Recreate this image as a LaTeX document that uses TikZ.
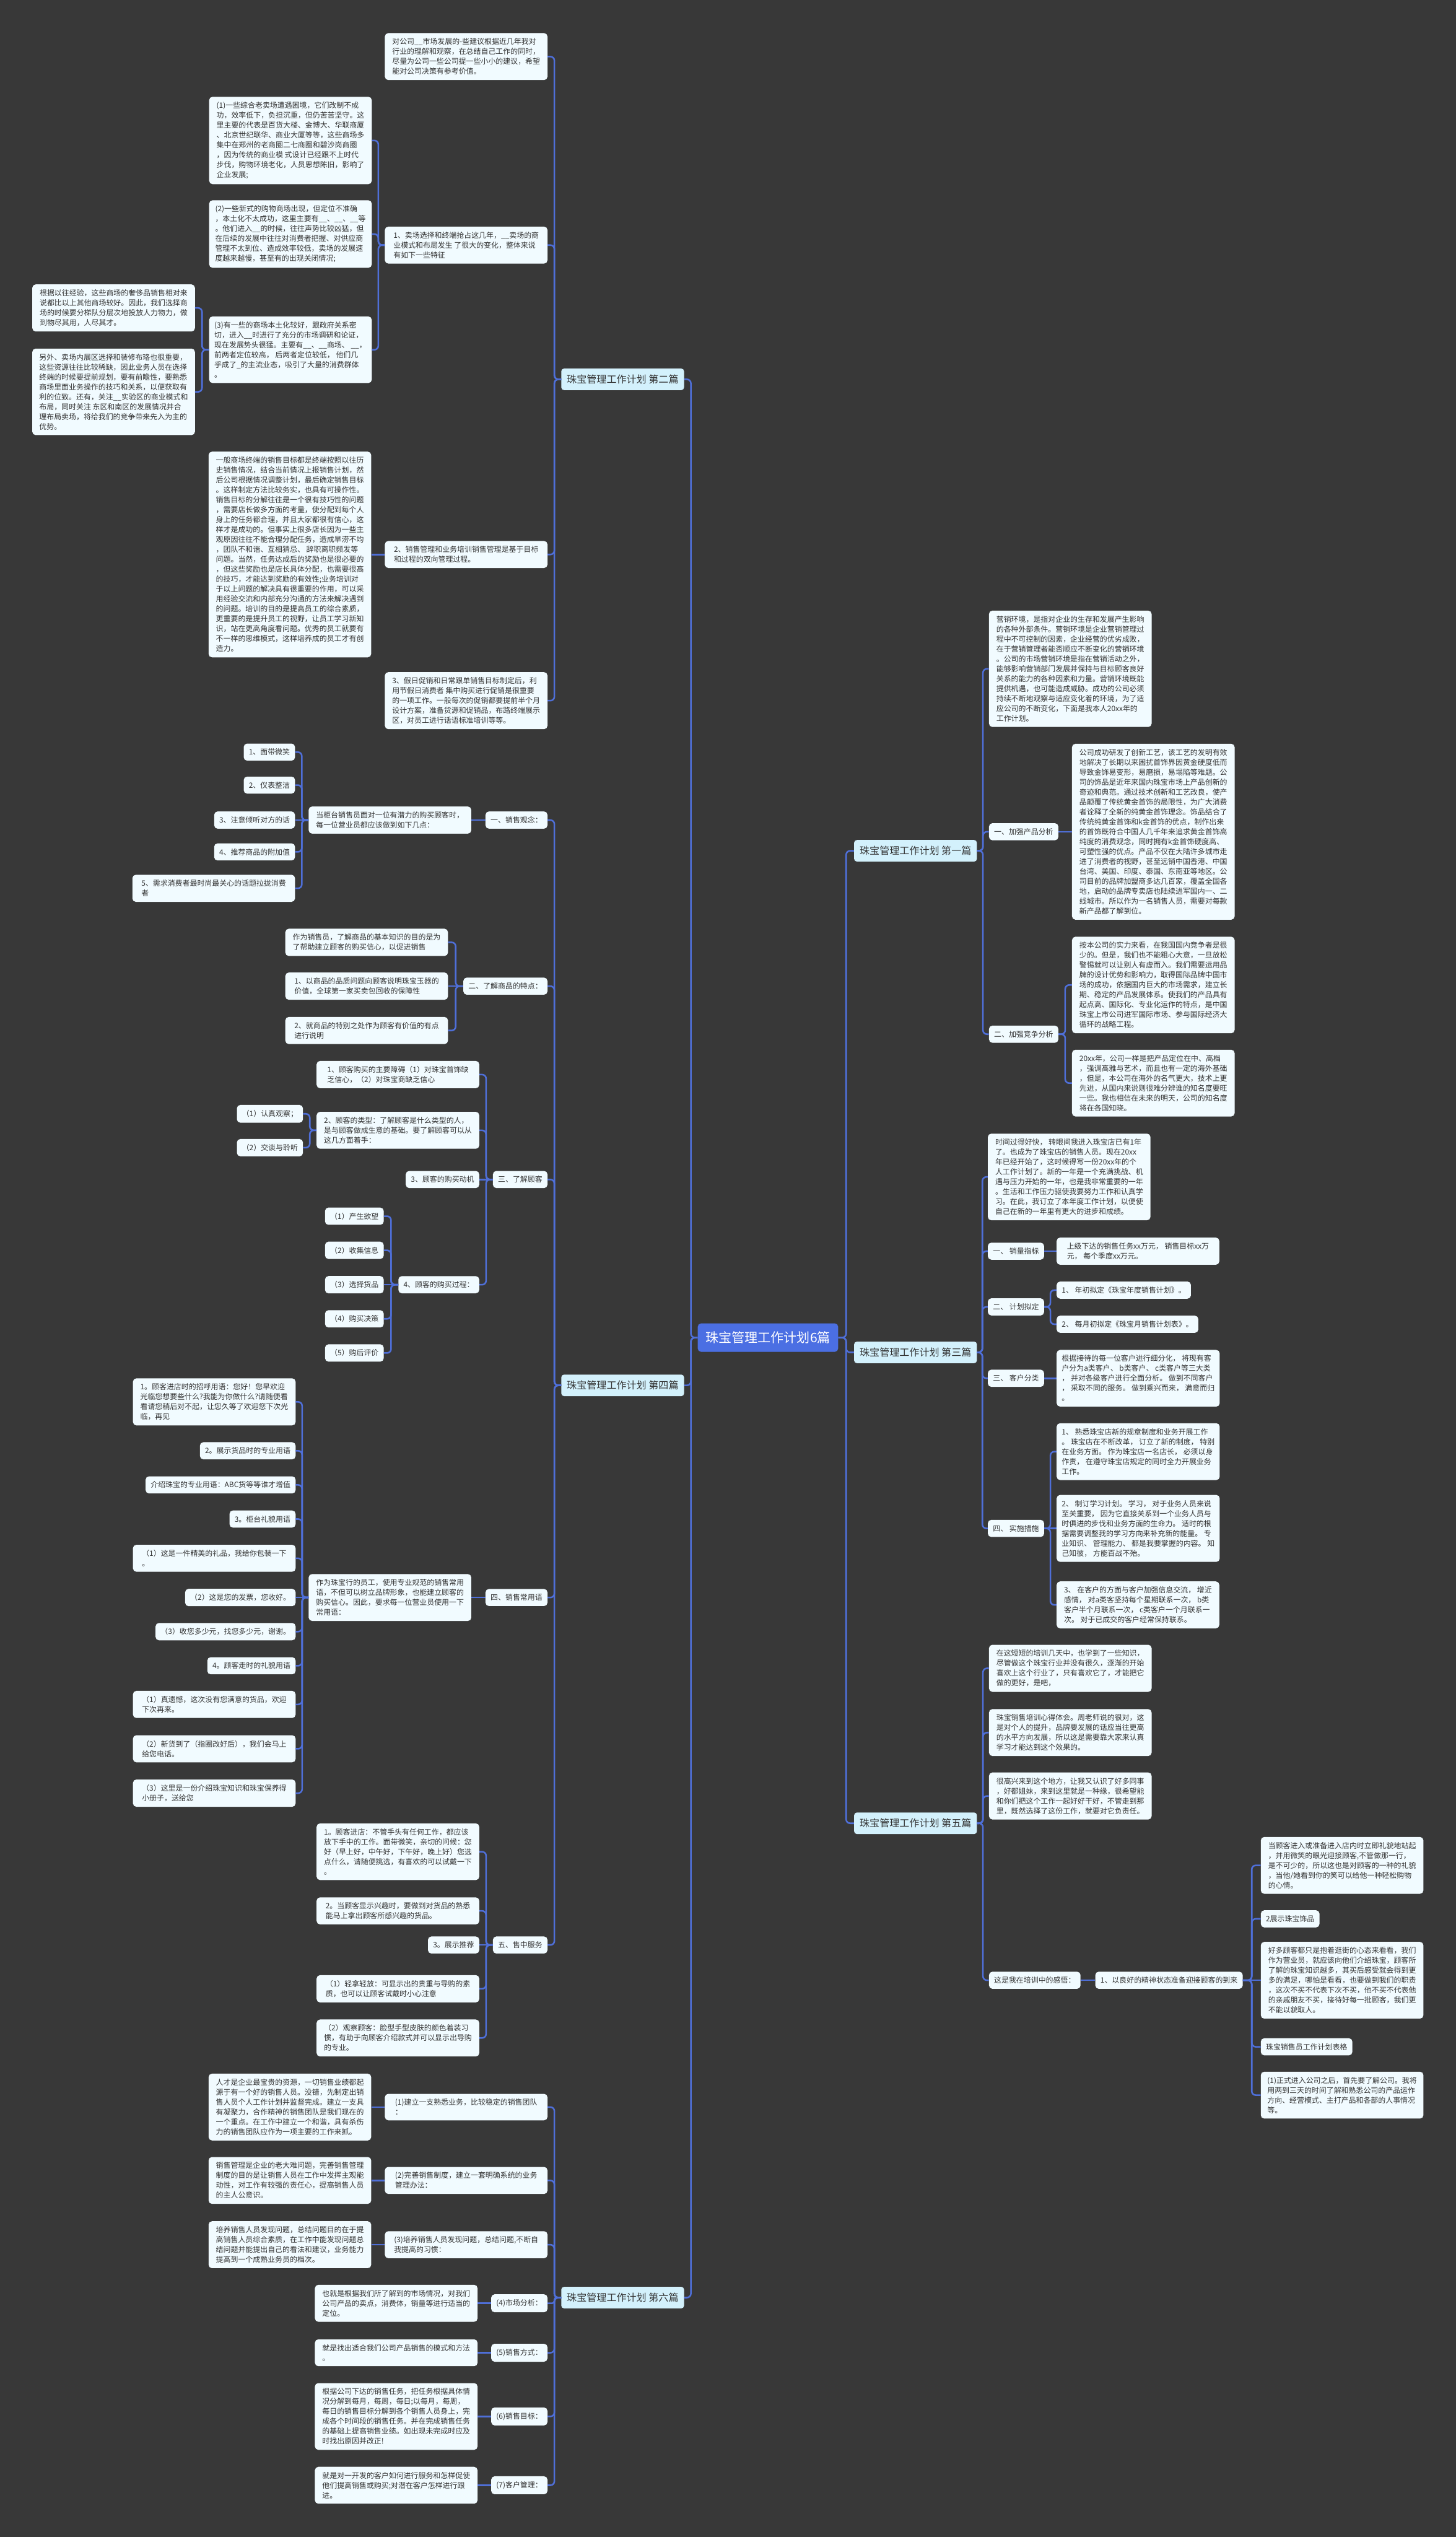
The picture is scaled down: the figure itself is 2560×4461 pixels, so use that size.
\documentclass[tikz,border=0pt]{standalone}
\usepackage{fontspec}
\setmainfont{Noto Sans CJK SC}
\usetikzlibrary{calc}
\definecolor{bg}{HTML}{383838}
\definecolor{boxfill}{HTML}{F1FBFF}
\definecolor{lvfill}{HTML}{D3F1FC}
\definecolor{rootfill}{HTML}{4B6FE3}
\definecolor{linkc}{HTML}{4F6FD8}
\definecolor{txt}{HTML}{333333}
\tikzset{
  box/.style={fill=boxfill, rounded corners=6pt, inner xsep=9pt, inner ysep=9pt,
    font=\fontsize{13}{17.45}\selectfont, text=txt, align=left},
  lb/.style={box, anchor=east},
  rb/.style={box, anchor=west},
  wd/.style={minimum width=286pt},
  lvl/.style={fill=lvfill, rounded corners=5pt, minimum width=216pt, minimum height=38pt,
    inner sep=0pt, font=\fontsize{17.5}{20}\selectfont, text=txt},
  rootn/.style={fill=rootfill, rounded corners=6pt, minimum width=247pt, minimum height=50pt,
    inner sep=0pt, font=\fontsize{23}{26}\selectfont, text=white},
  link/.style={draw=linkc, line width=2.8pt},
}
\newcommand\conL[3][7pt]{\draw[link,rounded corners=#1] let \p1=(#2.west), \p2=(#3.east) in (\p1) -- ({(\x1+\x2)/2},\y1) -- ({(\x1+\x2)/2},\y2) -- (\p2);}
\newcommand\conR[3][7pt]{\draw[link,rounded corners=#1] let \p1=(#2.east), \p2=(#3.west) in (\p1) -- ({(\x1+\x2)/2},\y1) -- ({(\x1+\x2)/2},\y2) -- (\p2);}
\newcommand\strL[2]{\draw[link] (#1.west) -- (#2.east);}
\newcommand\strR[2]{\draw[link] (#1.east) -- (#2.west);}
\begin{document}
\begin{tikzpicture}[x=1pt,y=-1pt]
\fill[bg] (0,0) rectangle (2560,4461);
\useasboundingbox (0,0) rectangle (2560,4461);

% root and level 1
\node[rootn] (root) at (1350.5,2352) {珠宝管理工作计划6篇};
\node[lvl] (L2) at (1095,667) {珠宝管理工作计划~第二篇};
\node[lvl] (L4) at (1095,2436) {珠宝管理工作计划~第四篇};
\node[lvl] (L6) at (1095,4040) {珠宝管理工作计划~第六篇};
\node[lvl] (R1) at (1610,1496) {珠宝管理工作计划~第一篇};
\node[lvl] (R3) at (1610,2378) {珠宝管理工作计划~第三篇};
\node[lvl] (R5) at (1610,3206) {珠宝管理工作计划~第五篇};

% ===== 第二篇 =====
\node[lb,wd] (a1) at (963,99.5) {对公司\_\_市场发展的-些建议根据近几年我对\\行业的理解和观察，在总结自己工作的同时，\\尽量为公司一些公司提一些小小的建议，希望\\能对公司决策有参考价值。};
\node[lb,wd] (a2) at (963,431) {1、卖场选择和终端抢占这几年，\_\_卖场的商\\业模式和布局发生~了很大的变化，整体来说\\有如下一些特征};
\node[lb,wd] (a2a) at (654,247) {(1)一些综合老卖场遭遇困境，它们改制不成\\功，效率低下，负担沉重，但仍苦苦坚守。这\\里主要的代表是百货大楼、金博大、华联商厦\\、北京世纪联华、商业大厦等等，这些商场多\\集中在郑州的老商圈二七商圈和碧沙岗商圈\\，因为传统的商业模~式设计已经跟不上时代\\步伐，购物环境老化，人员思想陈旧，影响了\\企业发展;};
\node[lb,wd] (a2b) at (654,411.5) {(2)一些新式的购物商场出现，但定位不准确\\，本土化不太成功，这里主要有\_\_、\_\_、\_\_等\\。他们进入\_\_的时候，往往声势比较凶猛，但\\在后续的发展中往往对消费者把握、对供应商\\管理不太到位、造成效率较低，卖场的发展速\\度越来越慢，甚至有的出现关闭情况;};
\node[lb,wd] (a2c) at (654,615) {(3)有一些的商场本土化较好，跟政府关系密\\切，进入\_\_时进行了充分的市场调研和论证，\\现在发展势头很猛。主要有\_\_、\_\_商场、~\_\_，\\前两者定位较高，~后两者定位较低，~他们几\\乎成了\_的主流业态，吸引了大量的消费群体\\。};
\node[lb,wd] (a2c1) at (343,541.5) {根据以往经验，这些商场的奢侈品销售相对来\\说都比以上其他商场较好。因此，我们选择商\\场的时候要分梯队分层次地投放人力物力，做\\到物尽其用，人尽其才。};
\node[lb,wd] (a2c2) at (343,689) {另外、卖场内展区选择和装修布珞也很重要，\\这些资源往往比较稀缺，因此业务人员在选择\\终端的时候要提前规划，要有前瞻性，要熟悉\\商场里面业务操作的技巧和关系，以便获取有\\利的位致。还有，关注\_\_实验区的商业模式和\\布局，同时关注~东区和南区的发展情况并合\\理布局卖场，将给我们的竞争带来先入为主的\\优势。};
\node[lb,wd] (a3) at (963,975) {2、销售管理和业务培训销售管理是基于目标\\和过程的双向管理过程。};
\node[lb,wd] (a3a) at (653,975) {一般商场终端的销售目标都是终端按照以往历\\史销售情况，结合当前情况上报销售计划，然\\后公司根据情况调整计划，最后确定销售目标\\。这样制定方法比较务实，也具有可操作性。\\销售目标的分解往往是一个很有技巧性的问题\\，需要店长做多方面的考量，使分配到每个人\\身上的任务都合理，并且大家都很有信心，这\\样才是成功的。但事实上很多店长因为一些主\\观原因往往不能合理分配任务，造成旱涝不均\\，团队不和谐、互相猜忌、~辞职离职频发等\\问题。当然，任务达成后的奖励也是很必要的\\，但这些奖励也是店长具体分配，也需要很高\\的技巧，才能达到奖励的有效性;业务培训对\\于以上问题的解决具有很重要的作用，可以采\\用经验交流和内部充分沟通的方法来解决遇到\\的问题。培训的目的是提高员工的综合素质，\\更重要的是提升员工的视野，让员工学习新知\\识，站在更高角度看问题。优秀的员工就要有\\不一样的思维模式，这样培养成的员工才有创\\造力。};
\node[lb,wd] (a4) at (963,1232) {3、假日促销和日常跟单销售目标制定后，利\\用节假日消费者~集中购买进行促销是很重要\\的一项工作。一般每次的促销都要提前半个月\\设计方案，准备货源和促销品，布路终端展示\\区，对员工进行话语标准培训等等。};

% ===== 第四篇 =====
\node[lb] (b1) at (963,1442) {一、销售观念：};
\node[lb,wd] (b1a) at (829,1442) {当柜台销售员面对一位有潜力的购买顾客时，\\每一位营业员都应该做到如下几点：};
\node[lb] (b1x1) at (519,1322.5) {1、面带微笑};
\node[lb] (b1x2) at (519,1380.5) {2、仪表整洁};
\node[lb] (b1x3) at (519,1442) {3、注意倾听对方的话};
\node[lb] (b1x4) at (519,1498) {4、推荐商品的附加值};
\node[lb,wd] (b1x5) at (519,1562) {5、需求消费者最时尚最关心的话题拉拢消费\\者};

\node[lb] (b2) at (963,1734) {二、了解商品的特点：};
\node[lb,wd] (b2x1) at (788,1657) {作为销售员，了解商品的基本知识的目的是为\\了帮助建立顾客的购买信心，以促进销售};
\node[lb,wd] (b2x2) at (788,1734) {1、以商品的品质问题向顾客说明珠宝玉器的\\价值，全球第一家买卖包回收的保障性};
\node[lb,wd] (b2x3) at (788,1812) {2、就商品的特别之处作为顾客有价值的有点\\进行说明};

\node[lb] (b3) at (963,2074) {三、了解顾客};
\node[lb,wd] (b3a) at (843,1889.5) {1、顾客购买的主要障碍（1）对珠宝首饰缺\\乏信心，（2）对珠宝商缺乏信心};
\node[lb,wd] (b3b) at (843,1987.5) {2、顾客的类型：了解顾客是什么类型的人，\\是与顾客做成生意的基础。要了解顾客可以从\\这几方面着手：};
\node[lb] (b3b1) at (533,1958.5) {（1）认真观察；};
\node[lb] (b3b2) at (533,2018) {（2）交谈与聆听};
\node[lb] (b3c) at (843,2074) {3、顾客的购买动机};
\node[lb] (b3d) at (843,2259) {4、顾客的购买过程：};
\node[lb] (b3d1) at (675,2138.5) {（1）产生欲望};
\node[lb] (b3d2) at (675,2198.5) {（2）收集信息};
\node[lb] (b3d3) at (675,2259) {（3）选择货品};
\node[lb] (b3d4) at (675,2319) {（4）购买决策};
\node[lb] (b3d5) at (675,2379) {（5）购后评价};

\node[lb] (b4) at (963,2809) {四、销售常用语};
\node[lb,wd] (b4a) at (829,2809) {作为珠宝行的员工，使用专业规范的销售常用\\语，不但可以树立品牌形象，也能建立顾客的\\购买信心。因此，要求每一位营业员使用一下\\常用语：};
\node[lb,wd] (b4x1) at (520,2465) {1。顾客进店时的招呼用语：您好！您早欢迎\\光临您想要些什么?我能为你做什么?请随便看\\看请您稍后对不起，让您久等了欢迎您下次光\\临，再见};
\node[lb] (b4x2) at (520,2551) {2。展示货品时的专业用语};
\node[lb] (b4x3) at (520,2611) {介绍珠宝的专业用语：ABC货等等谁才增值};
\node[lb] (b4x4) at (520,2671) {3。柜台礼貌用语};
\node[lb,wd] (b4x5) at (520,2740) {（1）这是一件精美的礼品，我给你包装一下\\。};
\node[lb] (b4x6) at (520,2809) {（2）这是您的发票，您收好。};
\node[lb] (b4x7) at (520,2869) {（3）收您多少元，找您多少元，谢谢。};
\node[lb] (b4x8) at (520,2929) {4。顾客走时的礼貌用语};
\node[lb,wd] (b4x9) at (520,2997) {（1）真遗憾，这次没有您满意的货品，欢迎\\下次再来。};
\node[lb,wd] (b4x10) at (520,3075) {（2）新货到了（指圈改好后），我们会马上\\给您电话。};
\node[lb,wd] (b4x11) at (520,3153) {（3）这里是一份介绍珠宝知识和珠宝保养得\\小册子，送给您};

\node[lb] (b5) at (963,3420) {五、售中服务};
\node[lb,wd] (b5x1) at (843,3256) {1。顾客进店：不管手头有任何工作，都应该\\放下手中的工作。面带微笑，亲切的问候：您\\好（早上好，中午好，下午好，晚上好）您选\\点什么，请随便挑选，有喜欢的可以试戴一下\\。};
\node[lb,wd] (b5x2) at (843,3360) {2。当顾客显示兴趣时，要做到对货品的熟悉\\能马上拿出顾客所感兴趣的货品。};
\node[lb] (b5x3) at (843,3420) {3。展示推荐};
\node[lb,wd] (b5x4) at (843,3497) {（1）轻拿轻放：可显示出的贵重与导购的素\\质，也可以让顾客试戴时小心注意};
\node[lb,wd] (b5x5) at (843,3583.5) {（2）观察顾客：脸型手型皮肤的颜色着装习\\惯，有助于向顾客介绍款式并可以显示出导购\\的专业。};

% ===== 第六篇 =====
\node[lb,wd] (c1) at (963,3705) {(1)建立一支熟悉业务，比较稳定的销售团队\\：};
\node[lb,wd] (c1a) at (653,3705) {人才是企业最宝贵的资源，一切销售业绩都起\\源于有一个好的销售人员。没错，先制定出销\\售人员个人工作计划并监督完成。建立一支具\\有凝聚力，合作精神的销售团队是我们现在的\\一个重点。在工作中建立一个和谐，具有杀伤\\力的销售团队应作为一项主要的工作来抓。};
\node[lb,wd] (c2) at (963,3834) {(2)完善销售制度，建立一套明确系统的业务\\管理办法：};
\node[lb,wd] (c2a) at (653,3834) {销售管理是企业的老大难问题，完善销售管理\\制度的目的是让销售人员在工作中发挥主观能\\动性，对工作有较强的责任心，提高销售人员\\的主人公意识。};
\node[lb,wd] (c3) at (963,3947) {(3)培养销售人员发现问题，总结问题,不断自\\我提高的习惯：};
\node[lb,wd] (c3a) at (653,3947) {培养销售人员发现问题，总结问题目的在于提\\高销售人员综合素质，在工作中能发现问题总\\结问题并能提出自己的看法和建议，业务能力\\提高到一个成熟业务员的档次。};
\node[lb] (c4) at (963,4050) {(4)市场分析：};
\node[lb,wd] (c4a) at (840,4050) {也就是根据我们所了解到的市场情况，对我们\\公司产品的卖点，消费体，销量等进行适当的\\定位。};
\node[lb] (c5) at (963,4137) {(5)销售方式：};
\node[lb,wd] (c5a) at (840,4137) {就是找出适合我们公司产品销售的模式和方法\\。};
\node[lb] (c6) at (963,4249) {(6)销售目标：};
\node[lb,wd] (c6a) at (840,4249) {根据公司下达的销售任务，把任务根据具体情\\况分解到每月，每周，每日;以每月，每周，\\每日的销售目标分解到各个销售人员身上，完\\成各个时间段的销售任务。并在完成销售任务\\的基础上提高销售业绩。如出现未完成时应及\\时找出原因并改正!};
\node[lb] (c7) at (963,4370) {(7)客户管理：};
\node[lb,wd] (c7a) at (840,4370) {就是对一开发的客户如何进行服务和怎样促使\\他们提高销售或购买;对潜在客户怎样进行跟\\进。};

% ===== 第一篇 =====
\node[rb,wd] (d1) at (1739,1176) {营销环境，是指对企业的生存和发展产生影响\\的各种外部条件。营销环境是企业营销管理过\\程中不可控制的因素，企业经营的优劣成败，\\在于营销管理者能否顺应不断变化的营销环境\\。公司的市场营销环境是指在营销活动之外，\\能够影响营销部门发展并保持与目标顾客良好\\关系的能力的各种因素和力量。营销环境既能\\提供机遇，也可能造成威胁。成功的公司必须\\持续不断地观察与适应变化着的环境，为了适\\应公司的不断变化，下面是我本人20xx年的\\工作计划。};
\node[rb] (d2) at (1739,1462.5) {一、加强产品分析};
\node[rb,wd] (d2a) at (1885,1462.5) {公司成功研发了创新工艺，该工艺的发明有效\\地解决了长期以来困扰首饰界因黄金硬度低而\\导致金饰易变形，易磨损，易塌陷等难题。公\\司的饰品是近年来国内珠宝市场上产品创新的\\奇迹和典范。通过技术创新和工艺改良，使产\\品颠覆了传统黄金首饰的局限性，为广大消费\\者诠释了全新的纯黄金首饰理念。饰品结合了\\传统纯黄金首饰和k金首饰的优点，制作出来\\的首饰既符合中国人几千年来追求黄金首饰高\\纯度的消费观念，同时拥有k金首饰硬度高、\\可塑性强的优点。产品不仅在大陆许多城市走\\进了消费者的视野，甚至远销中国香港、中国\\台湾、美国、印度、泰国、东南亚等地区。公\\司目前的品牌加盟商多达几百家，覆盖全国各\\地，启动的品牌专卖店也陆续进军国内一、二\\线城市。所以作为一名销售人员，需要对每款\\新产品都了解到位。};
\node[rb] (d3) at (1739,1818.5) {二、加强竞争分析};
\node[rb,wd] (d3a) at (1885,1732) {按本公司的实力来看，在我国国内竞争者是很\\少的。但是，我们也不能粗心大意，一旦放松\\警惕就可以让别人有虚而入。我们需要运用品\\牌的设计优势和影响力，取得国际品牌中国市\\场的成功，依据国内巨大的市场需求，建立长\\期、稳定的产品发展体系。使我们的产品具有\\起点高、国际化、专业化运作的特点，是中国\\珠宝上市公司进军国际市场、参与国际经济大\\循环的战略工程。};
\node[rb,wd] (d3b) at (1885,1904.5) {20xx年，公司一样是把产品定位在中、高档\\，强调高雅与艺术，而且也有一定的海外基础\\，但是，本公司在海外的名气更大，技术上更\\先进，从国内来说则很难分辨谁的知名度要旺\\一些。我也相信在未来的明天，公司的知名度\\将在各国知晓。};

% ===== 第三篇 =====
\node[rb,wd] (e1) at (1737,2069.5) {时间过得好快，~转眼间我进入珠宝店已有1年\\了。也成为了珠宝店的销售人员。现在20xx\\年已经开始了，这时候得写一份20xx年的个\\人工作计划了。新的一年是一个充满挑战、机\\遇与压力开始的一年，也是我非常重要的一年\\。生活和工作压力驱使我要努力工作和认真学\\习。在此，我订立了本年度工作计划，以便使\\自己在新的一年里有更大的进步和成绩。};
\node[rb] (e2) at (1737,2200) {一、~销量指标};
\node[rb,wd] (e2a) at (1858,2200) {上级下达的销售任务xx万元，~销售目标xx万\\元，~每个季度xx万元。};
\node[rb] (e3) at (1737,2298) {二、~计划拟定};
\node[rb] (e3a) at (1858,2268.5) {1、~年初拟定《珠宝年度销售计划》。};
\node[rb] (e3b) at (1858,2328.5) {2、~每月初拟定《珠宝月销售计划表》。};
\node[rb] (e4) at (1737,2423.5) {三、~客户分类};
\node[rb,wd] (e4a) at (1858,2423.5) {根据接待的每一位客户进行细分化，~将现有客\\户分为a类客户、~b类客户、~c类客户等三大类\\，~并对各级客户进行全面分析。~做到不同客户\\，~采取不同的服务。~做到乘兴而来，~满意而归\\。};
\node[rb] (e5) at (1737,2687.5) {四、~实施措施};
\node[rb,wd] (e5a) at (1858,2552.5) {1、~熟悉珠宝店新的规章制度和业务开展工作\\。~珠宝店在不断改革，~订立了新的制度，~特别\\在业务方面。~作为珠宝店一名店长，~必须以身\\作责，~在遵守珠宝店规定的同时全力开展业务\\工作。};
\node[rb,wd] (e5b) at (1858,2687.5) {2、~制订学习计划。~学习，~对于业务人员来说\\至关重要，~因为它直接关系到一个业务人员与\\时俱进的步伐和业务方面的生命力。~适时的根\\据需要调整我的学习方向来补充新的能量。~专\\业知识、~管理能力、~都是我要掌握的内容。~知\\己知彼，~方能百战不殆。};
\node[rb,wd] (e5c) at (1858,2822) {3、~在客户的方面与客户加强信息交流，~增近\\感情，~对a类客坚持每个星期联系一次，~b类\\客户半个月联系一次，~c类客户一个月联系一\\次。~对于已成交的客户经常保持联系。};

% ===== 第五篇 =====
\node[rb,wd] (f1) at (1739,2933.5) {在这短短的培训几天中，也学到了一些知识，\\尽管做这个珠宝行业并没有很久，逐渐的开始\\喜欢上这个行业了，只有喜欢它了，才能把它\\做的更好，是吧，};
\node[rb,wd] (f2) at (1739,3046.5) {珠宝销售培训心得体会。周老师说的很对，这\\是对个人的提升，品牌要发展的话应当往更高\\的水平方向发展，所以这是需要靠大家来认真\\学习才能达到这个效果的。};
\node[rb,wd] (f3) at (1739,3158) {很高兴来到这个地方，让我又认识了好多同事\\，好都姐妹，来到这里就是一种缘，很希望能\\和你们把这个工作一起好好干好，不管走到那\\里，既然选择了这份工作，就要对它负责任。};
\node[rb] (f4) at (1739,3482) {这是我在培训中的感悟：};
\node[rb] (f4a) at (1926,3482) {1、以良好的精神状态准备迎接顾客的到来};
\node[rb,wd] (f4x1) at (2217,3280) {当顾客进入或准备进入店内时立即礼貌地站起\\，并用微笑的眼光迎接顾客,不管做那一行，\\是不可少的，所以这也是对顾客的一种的礼貌\\，当他/她看到你的笑可以给他一种轻松购物\\的心情。};
\node[rb] (f4x2) at (2217,3374) {2展示珠宝饰品};
\node[rb,wd] (f4x3) at (2217,3482) {好多顾客都只是抱着逛街的心态来看看，我们\\作为营业员，就应该向他们介绍珠宝，顾客所\\了解的珠宝知识越多，其买后感受就会得到更\\多的满足，哪怕是看看，也要做到我们的职责\\，这次不买不代表下次不买，他不买不代表他\\的亲戚朋友不买，接待好每一批顾客，我们更\\不能以貌取人。};
\node[rb] (f4x4) at (2217,3599) {珠宝销售员工作计划表格};
\node[rb,wd] (f4x5) at (2217,3684) {(1)正式进入公司之后，首先要了解公司。我将\\用两到三天的时间了解和熟悉公司的产品运作\\方向、经营模式、主打产品和各部的人事情况\\等。};

% ===== connectors =====
\conL{root}{L2}\conL{root}{L4}\conL{root}{L6}
\conR{root}{R1}\conR{root}{R3}\conR{root}{R5}

\conL{L2}{a1}\conL{L2}{a2}\conL{L2}{a3}\conL{L2}{a4}
\conL{a2}{a2a}\conL{a2}{a2b}\conL{a2}{a2c}
\conL{a2c}{a2c1}\conL{a2c}{a2c2}
\strL{a3}{a3a}

\conL{L4}{b1}\conL{L4}{b2}\conL{L4}{b3}\conL{L4}{b4}\conL{L4}{b5}
\strL{b1}{b1a}
\conL{b1a}{b1x1}\conL{b1a}{b1x2}\strL{b1a}{b1x3}\conL{b1a}{b1x4}\conL{b1a}{b1x5}
\conL{b2}{b2x1}\strL{b2}{b2x2}\conL{b2}{b2x3}
\conL{b3}{b3a}\conL{b3}{b3b}\strL{b3}{b3c}\conL{b3}{b3d}
\conL{b3b}{b3b1}\conL{b3b}{b3b2}
\conL{b3d}{b3d1}\conL{b3d}{b3d2}\strL{b3d}{b3d3}\conL{b3d}{b3d4}\conL{b3d}{b3d5}
\strL{b4}{b4a}
\conL{b4a}{b4x1}\conL{b4a}{b4x2}\conL{b4a}{b4x3}\conL{b4a}{b4x4}\conL{b4a}{b4x5}
\strL{b4a}{b4x6}
\conL{b4a}{b4x7}\conL{b4a}{b4x8}\conL{b4a}{b4x9}\conL{b4a}{b4x10}\conL{b4a}{b4x11}
\conL{b5}{b5x1}\conL{b5}{b5x2}\strL{b5}{b5x3}\conL{b5}{b5x4}\conL{b5}{b5x5}

\conL{L6}{c1}\conL{L6}{c2}\conL{L6}{c3}\conL[4pt]{L6}{c4}\conL{L6}{c5}\conL{L6}{c6}\conL{L6}{c7}
\strL{c1}{c1a}\strL{c2}{c2a}\strL{c3}{c3a}\strL{c4}{c4a}\strL{c5}{c5a}\strL{c6}{c6a}\strL{c7}{c7a}

\conR{R1}{d1}\conR{R1}{d2}\conR{R1}{d3}
\strR{d2}{d2a}
\conR{d3}{d3a}\conR{d3}{d3b}

\conR{R3}{e1}\conR{R3}{e2}\conR{R3}{e3}\conR{R3}{e4}\conR{R3}{e5}
\strR{e2}{e2a}
\conR{e3}{e3a}\conR{e3}{e3b}
\strR{e4}{e4a}
\conR{e5}{e5a}\strR{e5}{e5b}\conR{e5}{e5c}

\conR{R5}{f1}\conR{R5}{f2}\conR{R5}{f3}\conR{R5}{f4}
\strR{f4}{f4a}
\conR{f4a}{f4x1}\conR{f4a}{f4x2}\strR{f4a}{f4x3}\conR{f4a}{f4x4}\conR{f4a}{f4x5}
\end{tikzpicture}
\end{document}
